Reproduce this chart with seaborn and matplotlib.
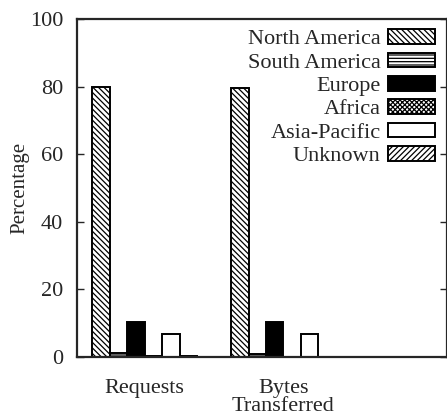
import numpy as np
import pandas as pd
import matplotlib
matplotlib.use('Agg')
import matplotlib.pyplot as plt
import seaborn as sns

# Values
regions = ['North America', 'South America', 'Europe', 'Africa', 'Asia-Pacific', 'Unknown']
metrics = ['Requests', 'Bytes\nTransferred']
requests_pct = [80.0, 1.1, 10.4, 0.2, 6.9, 0.4]
bytes_pct = [79.6, 1.0, 10.4, 0.1, 6.9, 0.1]

hatches = ['\\\\\\\\\\\\', '-----', '', 'xxxxxxx', '', '//////']
faces = ['white', 'white', 'black', 'white', 'white', 'white']

df = pd.DataFrame({
    'metric': [metrics[0]] * len(regions) + [metrics[1]] * len(regions),
    'region': regions + regions,
    'pct': requests_pct + bytes_pct,
})

sns.set_style('ticks')
plt.rcParams['font.family'] = ['Liberation Serif', 'DejaVu Serif']
plt.rcParams['hatch.linewidth'] = 0.9
plt.rcParams['hatch.color'] = 'black'

fig = plt.figure(figsize=(4.47, 4.16), dpi=100)
ax = fig.add_axes([0.172, 0.142, 0.828, 0.812])

sns.barplot(
    x='metric', y='pct', hue='region', data=df, order=metrics, hue_order=regions,
    width=0.755, palette=['white'] * len(regions), edgecolor='black', linewidth=1.4,
    saturation=1, ax=ax
)
for cont, h, fc in zip(ax.containers, hatches, faces):
    for p in cont.patches:
        p.set_hatch(h)
        p.set_facecolor(fc)

ax.set_xlim(-0.49, 2.18)
ax.set_ylim(0, 100)
ax.set_yticks(np.arange(0, 101, 20))
ax.set_xlabel('')
ax.set_ylabel('Percentage', fontsize=15, labelpad=0)
ax.tick_params(axis='y', direction='in', length=5, width=1, labelsize=16, right=True, pad=10)
ax.tick_params(axis='x', length=0, labelsize=16, pad=16)
for lbl in ax.get_xticklabels():
    lbl.set_linespacing(0.9)
for s in ax.spines.values():
    s.set_linewidth(1.6)
    s.set_visible(True)

leg = ax.legend(
    loc='upper right', bbox_to_anchor=(0.968, 0.97), frameon=False, fontsize=16,
    markerfirst=False, handlelength=2.1, handleheight=0.65, handletextpad=0.36,
    labelspacing=0.14, borderaxespad=0, borderpad=0
)
for t in leg.get_texts():
    t.set_ha('right')
for hnd, h, fc in zip(leg.legend_handles, hatches, faces):
    hnd.set_hatch(h)
    hnd.set_facecolor(fc)
    hnd.set_edgecolor('black')
    hnd.set_linewidth(1.4)

fig.savefig('out.png', dpi=100)
